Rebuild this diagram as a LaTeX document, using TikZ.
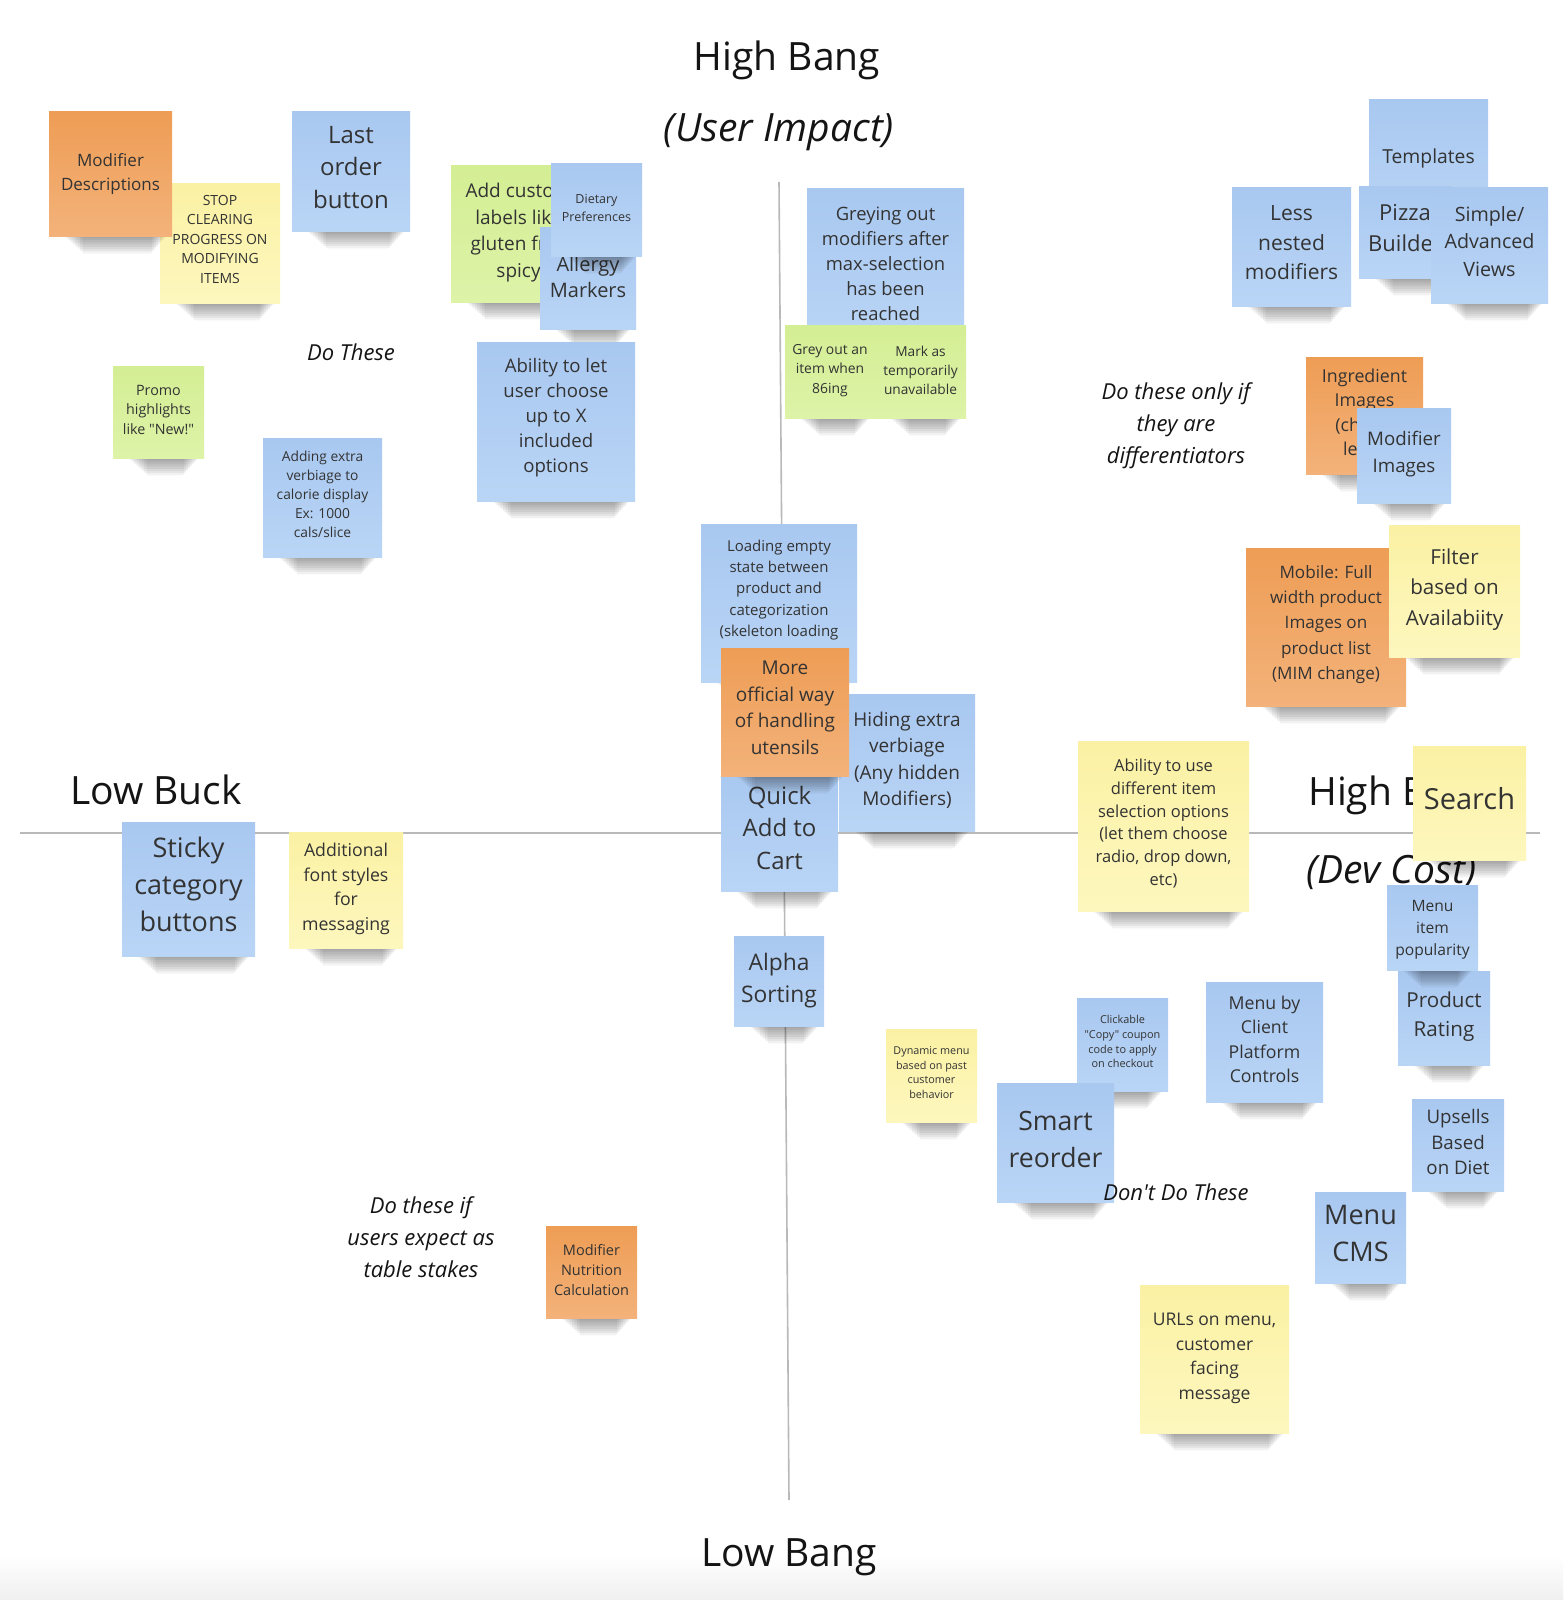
\documentclass[tikz,border=0pt]{standalone}
\usepackage{fontspec}
\setmainfont{Open Sans}[Ligatures=TeXOff]
\definecolor{bT}{HTML}{A9C8F0}
\definecolor{bB}{HTML}{B9D5F6}
\definecolor{oT}{HTML}{EE9D55}
\definecolor{oB}{HTML}{F3B27A}
\definecolor{yT}{HTML}{FBF1A4}
\definecolor{yB}{HTML}{FDF7BE}
\definecolor{gT}{HTML}{D4EE94}
\definecolor{gB}{HTML}{DDF3A8}
\definecolor{ink}{HTML}{333333}
\definecolor{axisgray}{HTML}{B9B9B9}
\tikzset{
  notetext/.style={align=center,text=ink,inner sep=0pt},
  axislabel/.style={font=\fontsize{39}{47}\selectfont,text=black!92,inner sep=0pt},
  axislabelit/.style={font=\fontsize{39}{47}\selectfont\itshape,text=black!92,inner sep=0pt},
  quadlabel/.style={font=\fontsize{22}{32}\selectfont\itshape,text=black!92,inner sep=0pt,align=center},
  axisline/.style={draw=axisgray,line width=1.6pt},
}
% [#1 text shift] #2 name #3 colour #4 x1 #5 y1 #6 x2 #7 y2 #8 {size}{skip} #9 text
\newcommand\sticky[9][-2]{%
  \foreach \k in {0,...,7}{%
    \fill[black,opacity=0.05,rounded corners=2pt] ({#4+16+2.5*\k},{#7-2}) rectangle ({#6-6-2*\k},{#7+2+2.2*\k});
  }%
  \shade[top color=#3T,bottom color=#3B] (#4,#5) rectangle (#6,#7);
  \node[notetext,font=\fontsize#8\selectfont] (#2) at ({(#4+#6)/2},{(#5+#7)/2+#1}) {#9};
}
\begin{document}
\begin{tikzpicture}[x=1pt,y=-1pt]
\useasboundingbox (0,0) rectangle (1563,1600);
\fill[white] (0,0) rectangle (1563,1600);
\shade[top color=white,bottom color=black!6] (0,1555) rectangle (1563,1600);

% axes
\coordinate (vtop) at (779,182);
\coordinate (vbot) at (789,1500);
\coordinate (hleft) at (20,833);
\coordinate (hright) at (1540,833);
\draw[axisline] (vtop) -- (vbot);
\draw[axisline] (hleft) -- (hright);

% axis labels
\node[axislabel,anchor=base] (highbang) at (787,71) {High Bang};
\node[axislabelit,anchor=base] (userimpact) at (779,142) {(User Impact)};
\node[axislabel,anchor=base west] (lowbuck) at (70,804) {Low Buck};
\node[axislabel,anchor=base west] (highbuck) at (1308,805) {High Buck};
\node[axislabelit,anchor=base west] (devcost) at (1306,883) {(Dev Cost)};
\node[axislabel,anchor=base] (lowbang) at (789,1566) {Low Bang};

% notes, back to front
\sticky[-4]{stop}{y}{160}{183}{280}{303}{{14}{19.5}}{STOP\\CLEARING\\PROGRESS ON\\MODIFYING\\ITEMS}
\sticky[0]{moddesc}{o}{49}{112}{172}{236}{{17}{24.5}}{Modifier\\Descriptions}
\sticky[-4]{lastorder}{b}{292}{112}{410}{231}{{24}{32.5}}{Last\\order\\button}
\sticky[-1]{customlabels}{g}{451}{165}{586}{302}{{19}{26.5}}{Add custom\\labels like\\gluten free\\spicy}
\sticky[-1]{allergy}{b}{540}{227}{636}{329}{{20}{26.5}}{Allergy\\Markers}
\sticky[-2]{dietary}{b}{551}{163}{642}{256}{{12.5}{18}}{Dietary\\Preferences}
\sticky[-2.5]{promo}{g}{113}{366}{204}{458}{{14.3}{19.5}}{Promo\\highlights\\like "New!"}
\sticky[-4]{letuser}{b}{477}{342}{635}{501}{{18.6}{25}}{Ability to let\\user choose\\up to X\\included\\options}
\sticky[-3.5]{calorie}{b}{263}{438}{382}{557}{{13.8}{19}}{Adding extra\\verbiage to\\calorie display\\Ex: 1000\\cals/slice}
\sticky[-3.5]{greying}{b}{807}{188}{964}{346}{{18.4}{25}}{Greying out\\modifiers after\\max-selection\\has been\\reached}
\sticky[-1]{greyout}{g}{785}{325}{875}{418}{{13.9}{19.3}}{Grey out an\\item when\\86ing}
\sticky[-1]{markas}{g}{875}{325}{966}{418}{{13.7}{19.3}}{Mark as\\temporarily\\unavailable}
\sticky[-2]{templates}{b}{1369}{100}{1488}{220}{{19.3}{25}}{Templates}
\sticky[-3.5]{lessnested}{b}{1232}{187}{1351}{306}{{21}{29.5}}{Less\\nested\\modifiers}
\sticky[-4]{pizza}{b}{1359}{186}{1451}{278}{{22}{30.5}}{Pizza\\Builder}
\sticky[-3.5]{simpleadv}{b}{1431}{187}{1548}{303}{{19.7}{27.5}}{Simple/\\Advanced\\Views}
\sticky[-2]{ingredient}{o}{1306}{357}{1423}{474}{{17.8}{24.5}}{Ingredient\\Images\\(choice\\level)}
\sticky[-1.5]{modimages}{b}{1357}{408}{1451}{503}{{18.7}{26.5}}{Modifier\\Images}
\sticky[-3]{loading}{b}{701}{524}{857}{682}{{15}{21.2}}{Loading empty\\state between\\product and\\categorization\\(skeleton loading\\\phantom{state)}}
\sticky[-2]{hiding}{b}{839}{694}{975}{831}{{19}{26.5}}{Hiding extra\\verbiage\\(Any hidden\\Modifiers)}
\sticky[-4]{quickadd}{b}{721}{772}{838}{891}{{24}{32.5}}{Quick\\Add to\\Cart}
\sticky[-4]{official}{o}{721}{648}{849}{776}{{19}{26.5}}{More\\official way\\of handling\\utensils}
\sticky[-0.5]{alpha}{b}{734}{936}{824}{1026}{{22.8}{31.5}}{Alpha\\Sorting}
\sticky[-5]{stickycat}{b}{122}{822}{255}{956}{{27}{37}}{Sticky\\category\\buttons}
\sticky[-1]{addfont}{y}{289}{832}{403}{948}{{17.7}{24.5}}{Additional\\font styles\\for\\messaging}
\sticky[-2.5]{mobile}{o}{1246}{548}{1406}{706}{{17.1}{25.3}}{Mobile: Full\\width product\\Images on\\product list\\(MIM change)}
\sticky[-1.5]{filter}{y}{1389}{525}{1520}{657}{{20.6}{30.5}}{Filter\\based on\\Availabiity}
\sticky[-2.5]{selection}{y}{1078}{741}{1249}{911}{{16.5}{22.8}}{Ability to use\\different item\\selection options\\(let them choose\\radio, drop down,\\etc)}
\sticky[-4]{search}{y}{1413}{746}{1526}{860}{{29}{35}}{Search}
\sticky[-1.5]{rating}{b}{1398}{971}{1490}{1065}{{20.6}{28.5}}{Product\\Rating}
\sticky[2.5]{popularity}{b}{1387}{885}{1478}{970}{{15.6}{21.8}}{Menu\\item\\popularity}
\sticky[-3]{upsells}{b}{1412}{1099}{1504}{1191}{{18.7}{25.3}}{Upsells\\Based\\on Diet}
\sticky[-4]{cms}{b}{1315}{1192}{1406}{1283}{{27}{37.5}}{Menu\\CMS}
\sticky[-0.5]{urls}{y}{1140}{1285}{1289}{1433}{{17.5}{24.5}}{URLs on menu,\\customer\\facing\\message}
\sticky[-2.5]{clientctl}{b}{1206}{982}{1323}{1102}{{17.7}{24.5}}{Menu by\\Client\\Platform\\Controls}
\sticky[-3]{coupon}{b}{1077}{998}{1168}{1091}{{10.9}{14.8}}{Clickable\\"Copy" coupon\\code to apply\\on checkout}
\sticky[-3]{dynamic}{y}{886}{1029}{977}{1122}{{10.8}{14.7}}{Dynamic menu\\based on past\\customer\\behavior}
\sticky[-3]{smart}{b}{997}{1083}{1114}{1202}{{26.6}{36.5}}{Smart\\reorder}
\sticky[-2]{nutrition}{o}{546}{1226}{637}{1318}{{14.5}{20.3}}{Modifier\\Nutrition\\Calculation}

% quadrant labels
\node[quadlabel,anchor=base] (dothese) at (351,360) {Do These};
\node[quadlabel] (differentiators) at (1176,426) {Do these only if\\they are\\differentiators};
\node[quadlabel] (tablestakes) at (421,1237) {Do these if\\users expect as\\table stakes};
\node[quadlabel,anchor=base] (dontdo) at (1176,1200) {Don't Do These};
\end{tikzpicture}
\end{document}
